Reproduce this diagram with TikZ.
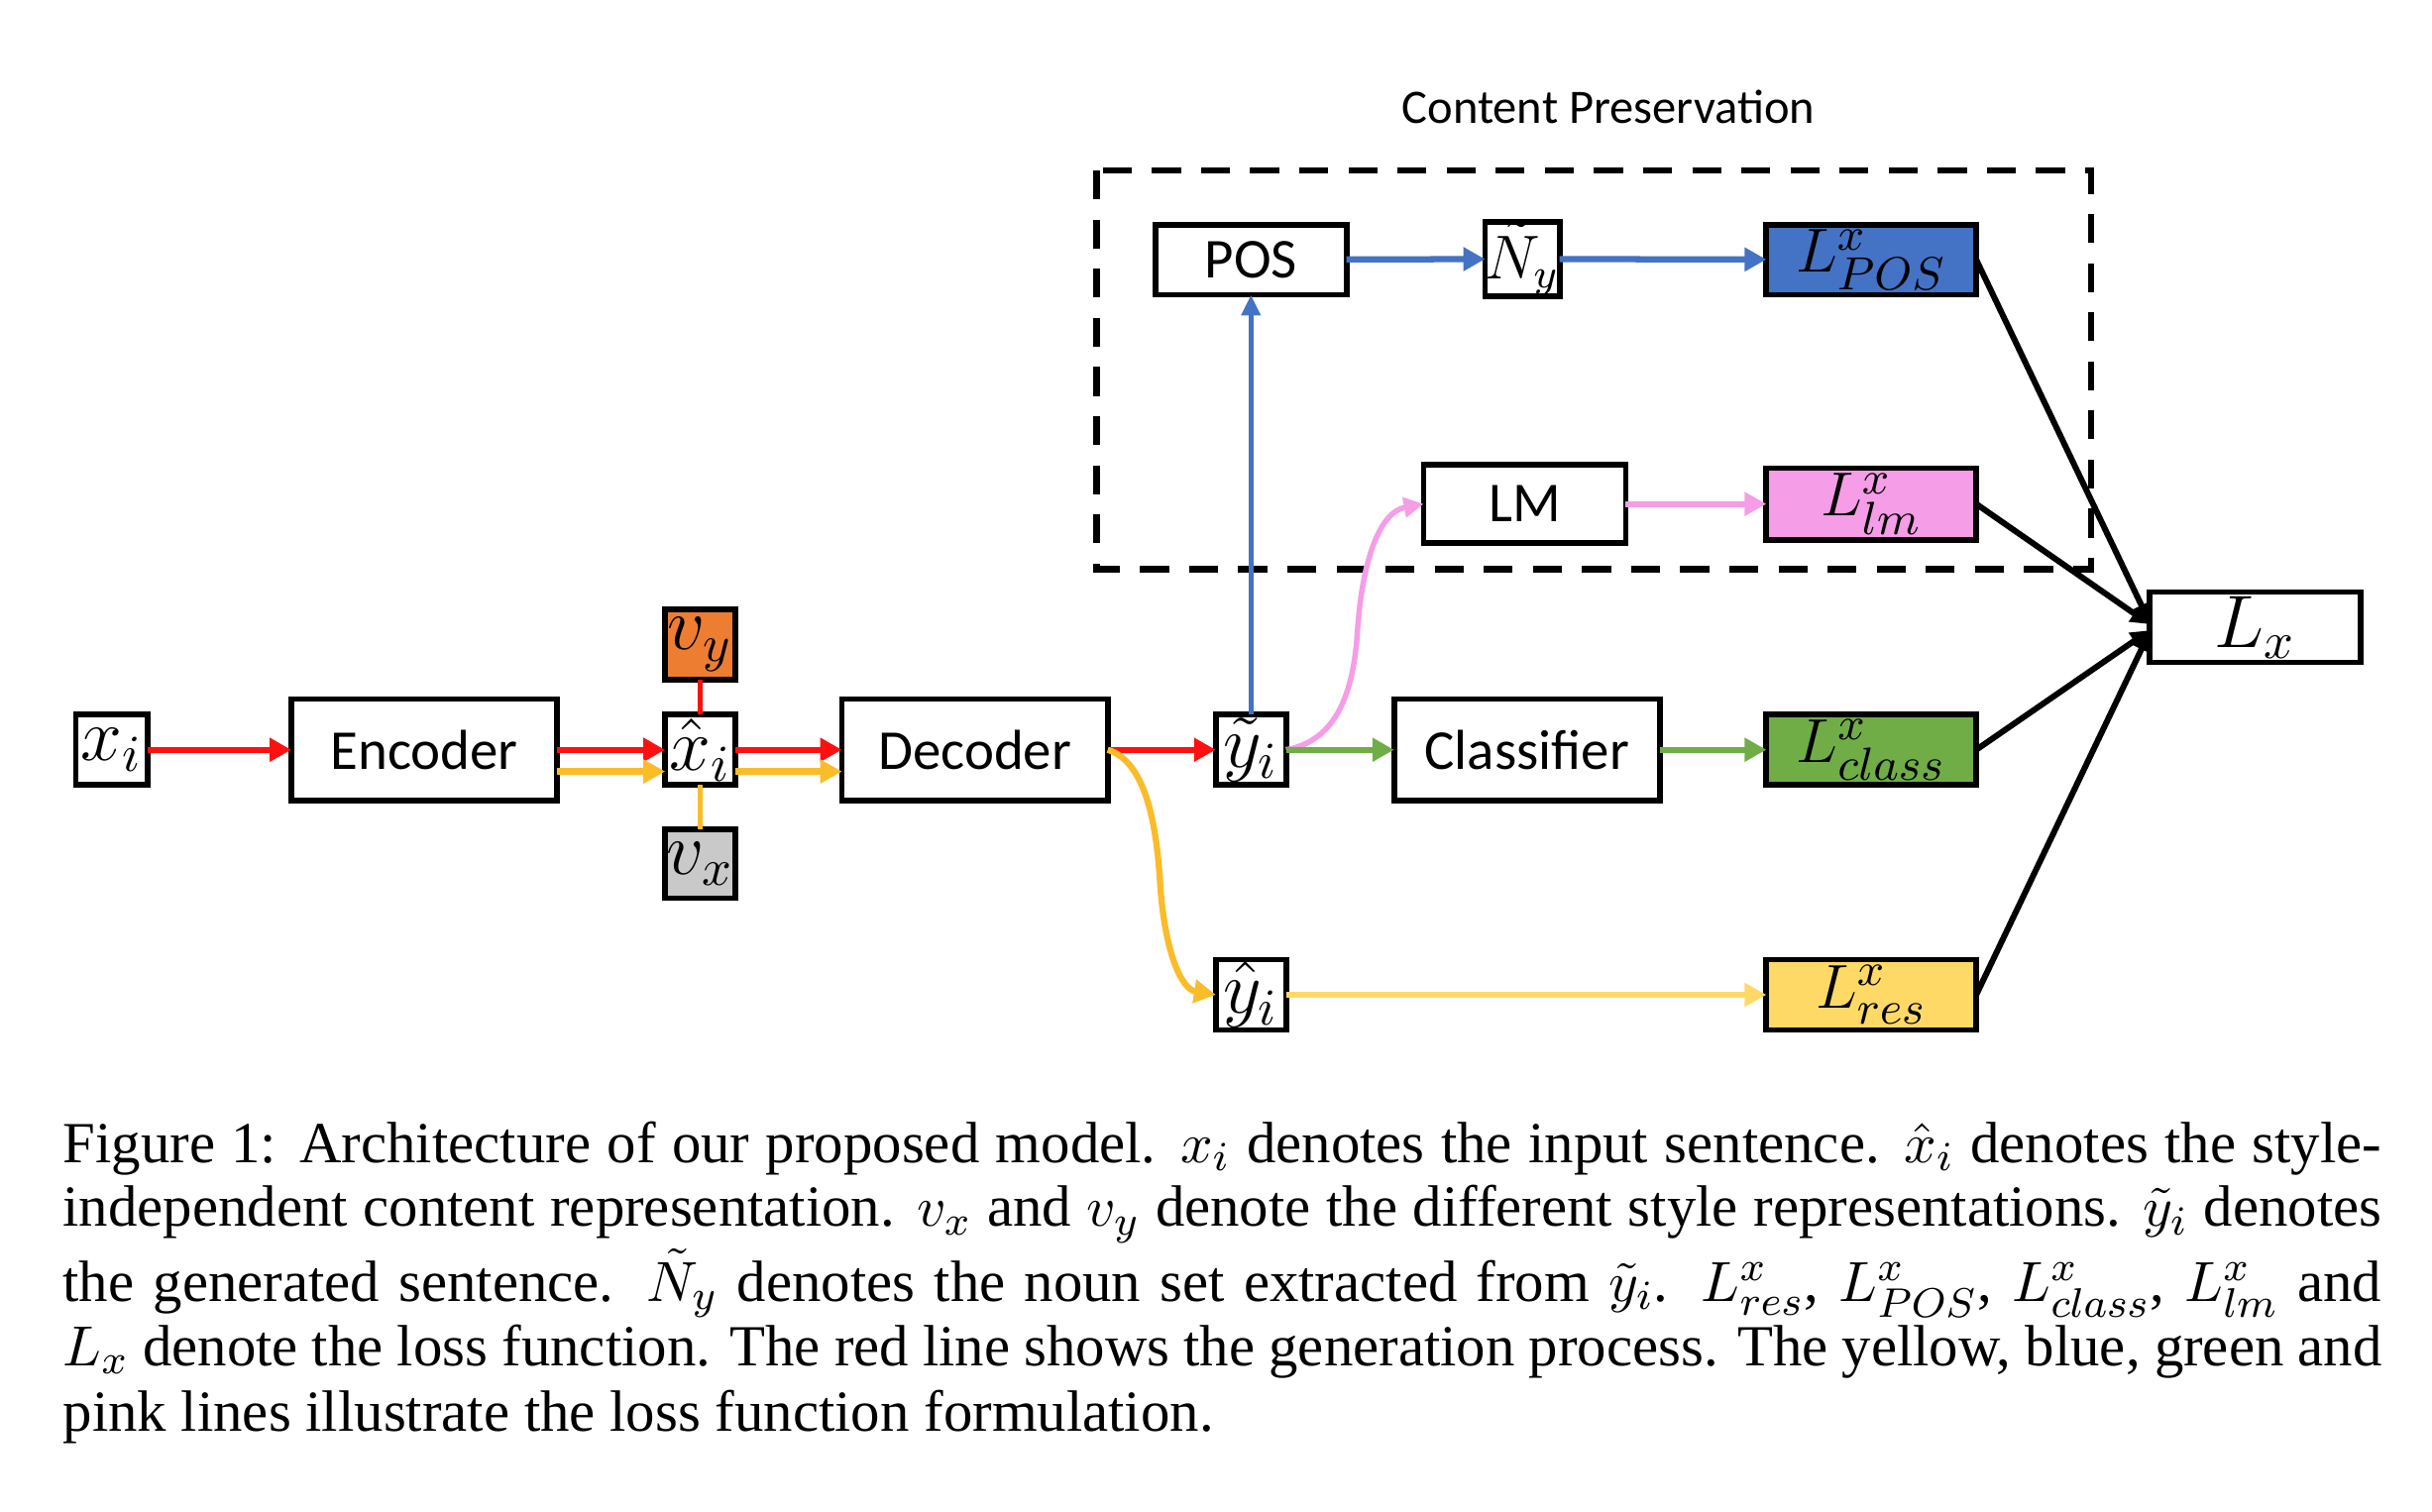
\documentclass[tikz,border=0pt]{standalone}
\usepackage{fontspec}
\setmainfont{Liberation Serif}
\newfontfamily\calibri{Carlito}
\usetikzlibrary{arrows.meta}
\definecolor{cred}{HTML}{FF1010}
\definecolor{cgold}{HTML}{FBBC2A}
\definecolor{clyel}{HTML}{FFD966}
\definecolor{cblue}{HTML}{4472C4}
\definecolor{cgreen}{HTML}{70AD47}
\definecolor{corange}{HTML}{ED7D31}
\definecolor{cgray}{HTML}{C9C9C9}
\definecolor{cpink}{HTML}{F59DE6}
\newcommand\dsans{\calibri\fontsize{10.9}{13}\selectfont}
\newcommand\dmath{\fontsize{14.5}{16}\selectfont}
\newcommand\nmath{\fontsize{12}{14}\selectfont}
\newcommand\lmath{\fontsize{13}{15}\selectfont}
\newcommand\capf{\fontsize{11.27}{12.6}\selectfont}
\newcommand\mkbox[7]{%
  \node[bx, fill=#6, minimum width={(#4-#2)*0.3pt-1.1pt}, minimum height={(#5-#3)*0.3pt-1.1pt}]
    (#1) at ({(#2+#4)/2},{(#3+#5)/2}) {#7};}
\tikzset{
  bx/.style={draw=black, line width=1.1pt, inner sep=0pt, outer sep=0pt},
  tipA/.style={-{Triangle[length=4.2pt,width=4.4pt]}},
  redarr/.style={draw=cred, line width=1.2pt, tipA},
  goldarr/.style={draw=cgold, line width=1.2pt, tipA},
  redln/.style={draw=cred, line width=1.1pt},
  goldln/.style={draw=cgold, line width=1.1pt},
  bluearr/.style={draw=cblue, line width=1.2pt, tipA},
  bluethin/.style={draw=cblue, line width=0.95pt, -{Triangle[length=4pt,width=3.6pt]}},
  pinkarr/.style={draw=cpink, line width=1.2pt, tipA},
  pinkcurve/.style={draw=cpink, line width=1.05pt, -{Triangle[length=3.8pt,width=3.8pt]}},
  greenarr/.style={draw=cgreen, line width=1.15pt, tipA},
  lyelarr/.style={draw=clyel, line width=1.2pt, tipA},
  blackarr/.style={draw=black, line width=1.15pt, -{Triangle[length=3.6pt,width=3.6pt]}},
  dashbox/.style={draw=black, line width=1.2pt, dash pattern=on 5.6pt off 3.9pt},
  capline/.style={anchor=base west, inner sep=0pt, font=\capf},
}
\begin{document}
\begin{tikzpicture}[x=0.3pt,y=-0.3pt]
\useasboundingbox[fill=white] (0,0) rectangle (1568,975);

% title and dashed region
\node[inner sep=0pt, font=\calibri\fontsize{9.3}{11}\selectfont] (title) at (1037,69) {Content Preservation};
\draw[dashbox] (707,110) rectangle (1348,367);

% boxes
\mkbox{xi}{47}{459}{97}{508}{white}{\dmath$x_i$}
\mkbox{enc}{186}{449}{361}{518}{white}{\dsans Encoder}
\mkbox{xh}{427}{459}{476}{508}{white}{\dmath$\hat{x}_i$}
\mkbox{vy}{427}{391}{476}{440}{corange}{\dmath$v_y$}
\mkbox{vx}{427}{533}{476}{581}{cgray}{\dmath$v_x$}
\mkbox{dec}{541}{449}{716}{518}{white}{\dsans Decoder}
\mkbox{yt}{782}{459}{831}{508}{white}{\dmath$\tilde{y}_i$}
\mkbox{cls}{897}{449}{1072}{518}{white}{\dsans Classifier}
\mkbox{lcls}{1137}{459}{1276}{508}{cgreen}{\lmath$L^x_{class}$}
\mkbox{yh}{782}{617}{831}{666}{white}{\dmath$\hat{y}_i$}
\mkbox{lres}{1137}{617}{1276}{666}{clyel}{\lmath$L^x_{res}$}
\mkbox{pos}{743}{143}{870}{192}{white}{\dsans POS}
\mkbox{nt}{957}{142}{1006}{192}{white}{\nmath$\tilde{N}_y$}
\mkbox{lpos}{1137}{143}{1276}{192}{cblue}{\lmath$L^x_{POS}$}
\mkbox{lm}{916}{298}{1050}{352}{white}{\dsans LM}
\mkbox{llm}{1137}{300}{1276}{350}{cpink}{\lmath$L^x_{lm}$}
\mkbox{lx}{1384}{380}{1524}{429}{white}{\dmath$L_x$}

% connectors
\draw[redarr] (xi) -- (enc);
\draw[redarr] (enc.east) -- (xh.west);
\draw[goldarr] ([yshift=-4.2pt]enc.east) -- ([yshift=-4.2pt]xh.west);
\draw[redarr] (xh.east) -- (dec.west);
\draw[goldarr] ([yshift=-4.2pt]xh.east) -- ([yshift=-4.2pt]dec.west);
\draw[redln] (vy.south) -- (xh.north);
\draw[goldln] (vx.north) -- (xh.south);
\draw[redarr] (dec.east) -- (yt.west);
\draw[goldarr] (dec.east) .. controls (735,490) and (745,520) .. (748,570)
  .. controls (751,615) and (762,638) .. (yh.west);
\draw[bluethin] (yt.north) -- (pos.south);
\draw[pinkcurve] (yt.east) .. controls (860,478) and (872,450) .. (875,410)
  .. controls (878,360) and (890,330) .. (lm.west);
\draw[greenarr] (yt) -- (cls);
\draw[bluearr] (pos) -- (nt);
\draw[bluearr] (nt) -- (lpos);
\draw[pinkarr] (lm) -- (llm);
\draw[greenarr] (cls) -- (lcls);
\draw[lyelarr] (yh) -- (lres);
\draw[blackarr] (lpos.east) -- ([yshift=1pt]lx.west);
\draw[blackarr] (llm.east) -- ([yshift=0.6pt]lx.west);
\draw[blackarr] (lcls.east) -- ([yshift=-0.6pt]lx.west);
\draw[blackarr] (lres.east) -- ([yshift=-1pt]lx.west);

% caption
\node[capline] (c1) at (40,749.5) {\hbox to 448.5pt{Figure 1: Architecture of our proposed model. $x_i$ denotes the input sentence. $\hat{x}_i$ denotes the style-}};
\node[capline] (c2) at (40,791) {\hbox to 448.5pt{independent content representation. $v_x$ and $v_y$ denote the different style representations. $\tilde{y}_i$ denotes}};
\node[capline] (c3) at (40,839) {\hbox to 448.5pt{the generated sentence. $\tilde{N}_y$ denotes the noun set extracted from $\tilde{y}_i$. $L^x_{res}$, $L^x_{POS}$, $L^x_{class}$, $L^x_{lm}$ and}};
\node[capline] (c4) at (40,880.5) {\hbox to 448.5pt{$L_x$ denote the loss function. The red line shows the generation process. The yellow, blue, green and}};
\node[capline] (c5) at (40,923) {pink lines illustrate the loss function formulation.};
\end{tikzpicture}
\end{document}
